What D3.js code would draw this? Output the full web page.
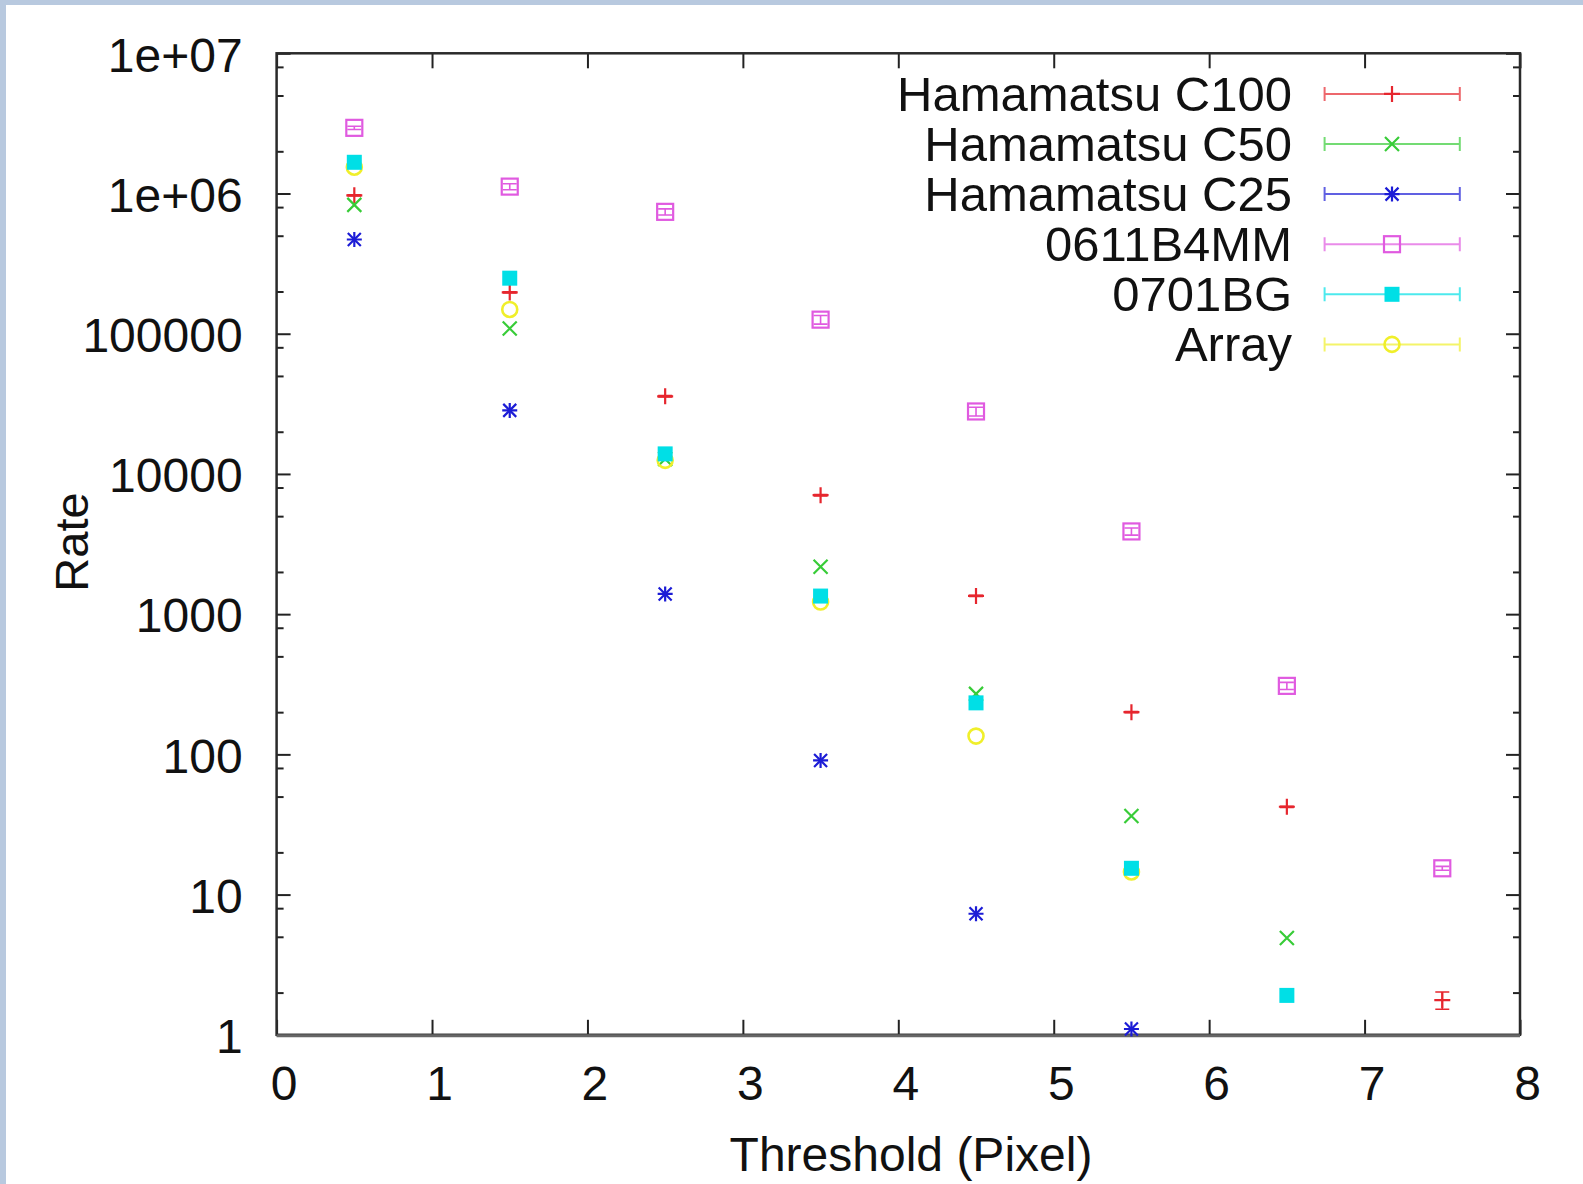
<!DOCTYPE html>
<html>
<head>
<meta charset="utf-8">
<script src="https://cdn.jsdelivr.net/npm/d3@7"></script>
<style>
  html, body { margin: 0; padding: 0; background: #ffffff; }
  svg { display: block; }
  text { font-family: "Liberation Sans", Arial, Helvetica, sans-serif; fill: #111; }
</style>
</head>
<body>
<script>
// Threshold positions (pixel) at which the rates were measured
const thresholds = [0.5, 1.5, 2.5, 3.5, 4.5, 5.5, 6.5, 7.5];

// Series names, in legend order
const seriesNames = ["Hamamatsu C100", "Hamamatsu C50", "Hamamatsu C25", "0611B4MM", "0701BG", "Array"];

// Measured rates per series (one value per threshold, missing tail = no data)
const rateC100   = [9.7e5, 1.97e5, 3.58e4, 7060, 1350, 200, 42.3, 1.77];
const rateC50    = [8.3e5, 1.09e5, 1.28e4, 2180, 270, 36.4, 4.9];
const rateC25    = [4.7e5, 2.84e4, 1393, 90.5, 7.3, 1.1];
const rate0611   = [2.94e6, 1.12e6, 7.4e5, 1.26e5, 2.79e4, 3890, 308, 15.4];
const rate0701   = [1.67e6, 2.49e5, 1.39e4, 1346, 233, 15.4, 1.91];
const rateArray  = [1.54e6, 1.49e5, 1.25e4, 1220, 135, 14.5];

// Statistical errors on the rates (absolute)
const errC100    = [1.0e4, 2.0e3, 400, 80, 15, 2, 0.4, 0.25];
const err0611    = [8.0e4, 5.5e4, 3.7e4, 9000, 2000, 230, 18, 0.5];

// Axis ticks
const xTicks = [0, 1, 2, 3, 4, 5, 6, 7, 8];
const yTicks = [1, 10, 100, 1000, 10000, 100000, 1e6, 1e7];
const yTickLabels = ["1", "10", "100", "1000", "10000", "100000", "1e+06", "1e+07"];
const yMinorMantissas = [2, 5, 8];

const seriesRates  = [rateC100, rateC50, rateC25, rate0611, rate0701, rateArray];
const seriesErrors = [errC100, null, null, err0611, null, null];
const seriesColors = ["#e6262e", "#38cc38", "#1c1cd6", "#e05ae0", "#00dfe6", "#f0ef2a"];
const seriesMarks  = ["plus", "cross", "star", "box", "fbox", "circle"];
// drawing order of the points (filled boxes on top of circles)
const drawOrder = [0, 1, 2, 3, 5, 4];

const W = 1583, H = 1184;
const plot = { left: 276.6, right: 1520, top: 53.3, bottom: 1034.8 };

const svg = d3.select("body").append("svg")
  .attr("width", W).attr("height", H);

// page background with the light blue window edge
svg.append("rect").attr("width", W).attr("height", H).attr("fill", "#ffffff");
svg.append("rect").attr("x", 0).attr("y", 0).attr("width", W).attr("height", 5).attr("fill", "#b8c9df");
svg.append("rect").attr("x", 0).attr("y", 0).attr("width", 6).attr("height", H).attr("fill", "#b8c9df");

const x = d3.scaleLinear().domain([0, 8]).range([plot.left, plot.right]);
const y = d3.scaleLog().domain([1, 1e7]).range([plot.bottom, plot.top]);

const yMinor = [];
for (let e = 0; e < 7; e++) {
  yMinorMantissas.forEach(m => yMinor.push(m * Math.pow(10, e)));
}

const axisStyle = g => {
  g.select(".domain").remove();
  g.selectAll(".tick line").attr("stroke", "#222").attr("stroke-width", 2);
  g.selectAll(".tick text").style("font-size", "48px").attr("fill", "#111");
};

// bottom axis with labels
svg.append("g")
  .attr("transform", `translate(0,${plot.bottom})`)
  .call(d3.axisBottom(x).tickValues(xTicks).tickSize(-15).tickPadding(31).tickFormat(d3.format("d")))
  .call(axisStyle)
  .call(g => g.selectAll(".tick text").attr("dx", 7));

// top mirror ticks
svg.append("g")
  .attr("transform", `translate(0,${plot.top})`)
  .call(d3.axisTop(x).tickValues(xTicks).tickSize(-15).tickFormat(""))
  .call(axisStyle);

// left axis: decades with labels, plus minor ticks
svg.append("g")
  .attr("transform", `translate(${plot.left},0)`)
  .call(d3.axisLeft(y).tickValues(yTicks).tickSize(-14).tickPadding(34)
    .tickFormat((d, i) => yTickLabels[i]))
  .call(axisStyle)
  .call(g => g.selectAll(".tick text").attr("dy", "0.37em"));
svg.append("g")
  .attr("transform", `translate(${plot.left},0)`)
  .call(d3.axisLeft(y).tickValues(yMinor).tickSize(-7).tickFormat(""))
  .call(axisStyle);

// right mirror ticks
svg.append("g")
  .attr("transform", `translate(${plot.right},0)`)
  .call(d3.axisRight(y).tickValues(yTicks).tickSize(-14).tickFormat(""))
  .call(axisStyle);
svg.append("g")
  .attr("transform", `translate(${plot.right},0)`)
  .call(d3.axisRight(y).tickValues(yMinor).tickSize(-7).tickFormat(""))
  .call(axisStyle);

// plot frame
svg.append("rect")
  .attr("x", plot.left).attr("y", plot.top)
  .attr("width", plot.right - plot.left).attr("height", plot.bottom - plot.top)
  .attr("fill", "none").attr("stroke", "#2a2a2a").attr("stroke-width", 2.5);
svg.append("line")
  .attr("x1", plot.left).attr("x2", plot.right)
  .attr("y1", plot.bottom + 1).attr("y2", plot.bottom + 1)
  .attr("stroke", "#666").attr("stroke-width", 3);

// axis titles
svg.append("text")
  .attr("x", 911).attr("y", 1171)
  .attr("text-anchor", "middle")
  .style("font-size", "48px")
  .text("Threshold (Pixel)");
svg.append("text")
  .attr("transform", "translate(88,542) rotate(-90)")
  .attr("text-anchor", "middle")
  .style("font-size", "47px")
  .text("Rate");

// point symbol drawn around (0,0)
function drawMarker(g, type, color) {
  const sw = 2.2;
  if (type === "plus" || type === "star") {
    const s = type === "plus" ? 8 : 7.5;
    g.append("path").attr("d", `M${-s},0H${s}M0,${-s}V${s}`)
      .attr("stroke", color).attr("stroke-width", sw).attr("fill", "none");
  }
  if (type === "cross" || type === "star") {
    const s = type === "cross" ? 7 : 6.5;
    g.append("path").attr("d", `M${-s},${-s}L${s},${s}M${-s},${s}L${s},${-s}`)
      .attr("stroke", color).attr("stroke-width", sw).attr("fill", "none");
  }
  if (type === "box") {
    g.append("rect").attr("x", -8).attr("y", -8).attr("width", 16).attr("height", 16)
      .attr("stroke", color).attr("stroke-width", sw).attr("fill", "none");
  }
  if (type === "fbox") {
    g.append("rect").attr("x", -7.5).attr("y", -7.5).attr("width", 15).attr("height", 15)
      .attr("fill", color);
  }
  if (type === "circle") {
    g.append("circle").attr("r", 7.5)
      .attr("stroke", color).attr("stroke-width", 2.6).attr("fill", "none");
  }
}

// data points with error bars
drawOrder.forEach(si => {
  const rates = seriesRates[si];
  const color = seriesColors[si];
  const errs = seriesErrors[si];
  const gs = svg.append("g").attr("class", "series");
  rates.forEach((v, i) => {
    const cx = x(thresholds[i]);
    const cy = y(v);
    if (errs) {
      const e = errs[i];
      const yLo = y(Math.max(v - e, 1e-3));
      const yHi = y(v + e);
      gs.append("path")
        .attr("d", `M${cx},${yLo}V${yHi}M${cx - 7},${yLo}H${cx + 7}M${cx - 7},${yHi}H${cx + 7}`)
        .attr("stroke", color).attr("stroke-width", 1.6).attr("fill", "none");
    }
    const g = gs.append("g").attr("transform", `translate(${cx},${cy})`);
    drawMarker(g, seriesMarks[si], color);
  });
});

// legend
const legend = svg.append("g");
seriesNames.forEach((name, i) => {
  const ry = 93.9 + i * 50.1;
  const color = seriesColors[i];
  legend.append("text")
    .attr("x", 1292).attr("y", ry + 17)
    .attr("text-anchor", "end")
    .style("font-size", "49px")
    .text(name);
  legend.append("path")
    .attr("d", `M1324.6,${ry}H1459.8M1324.6,${ry - 7}V${ry + 7}M1459.8,${ry - 7}V${ry + 7}`)
    .attr("stroke", color).attr("stroke-opacity", 0.7).attr("stroke-width", 2).attr("fill", "none");
  const g = legend.append("g").attr("transform", `translate(1392,${ry})`);
  drawMarker(g, seriesMarks[i], color);
});
</script>
</body>
</html>
